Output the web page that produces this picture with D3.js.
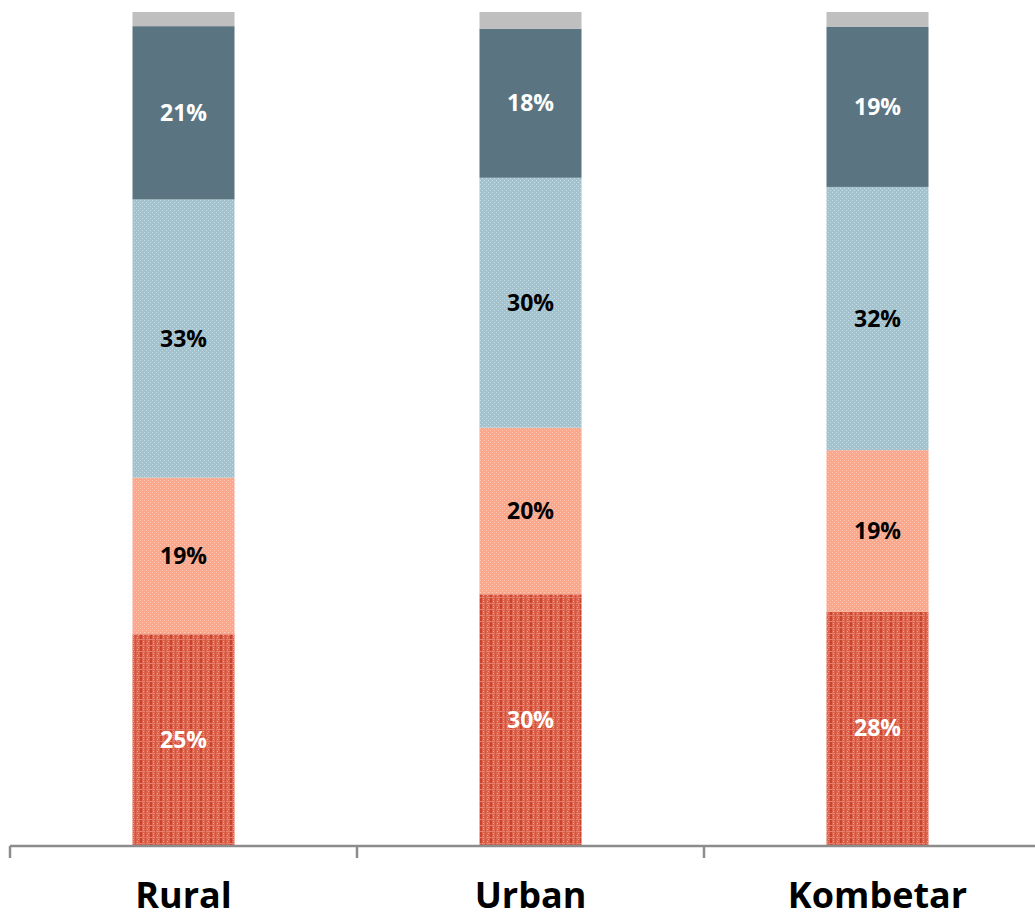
<!DOCTYPE html>
<html>
<head>
<meta charset="utf-8">
<script src="https://cdn.jsdelivr.net/npm/d3@7/dist/d3.min.js"></script>
<style>
  html, body { margin: 0; padding: 0; background: #ffffff; }
  svg { display: block; }
</style>
</head>
<body>
<svg id="chart" width="1035" height="918"></svg>
<script>
// ---- Data (percent of each bar, bottom to top) ----
const categories = ["Rural", "Urban", "Kombetar"];
const seriesKeys = ["s1", "s2", "s3", "s4", "s5"];
const s1Values = [25.3, 30.1, 28.0];   // bottom, red
const s2Values = [18.8, 20.0, 19.4];   // salmon
const s3Values = [33.4, 30.0, 31.6];   // light blue
const s4Values = [20.8, 17.9, 19.2];   // dark slate
const s5Values = [1.7, 2.0, 1.8];      // grey remainder
const s1Labels = ["25%", "30%", "28%"];
const s2Labels = ["19%", "20%", "19%"];
const s3Labels = ["33%", "30%", "32%"];
const s4Labels = ["21%", "18%", "19%"];
const s5Labels = ["", "", ""];

const rows = categories.map((c, i) => ({
  cat: c,
  s1: s1Values[i], s2: s2Values[i], s3: s3Values[i], s4: s4Values[i], s5: s5Values[i]
}));
const labelMap = { s1: s1Labels, s2: s2Labels, s3: s3Labels, s4: s4Labels, s5: s5Labels };
const fills = { s1: "url(#pRed)", s2: "url(#pSalmon)", s3: "url(#pBlue)", s4: "#5a7581", s5: "#bfbfbf" };
const textColors = { s1: "#ffffff", s2: "#000000", s3: "#000000", s4: "#ffffff", s5: "#000000" };

const svg = d3.select("#chart");
const defs = svg.append("defs");

// Red grid-like texture
const pr = defs.append("pattern").attr("id", "pRed").attr("patternUnits", "userSpaceOnUse")
  .attr("width", 10).attr("height", 6);
pr.append("rect").attr("width", 10).attr("height", 6).attr("fill", "#dd634d");
pr.append("rect").attr("x", 0).attr("width", 2).attr("height", 6).attr("fill", "#c9432f");
pr.append("rect").attr("x", 0).attr("y", 3).attr("width", 10).attr("height", 1).attr("fill", "#e77f6c");
pr.append("rect").attr("x", 5).attr("y", 0).attr("width", 1).attr("height", 6).attr("fill", "#d45540");
pr.append("rect").attr("x", 3).attr("y", 1).attr("width", 1).attr("height", 1).attr("fill", "#f0a999");
pr.append("rect").attr("x", 7).attr("y", 1).attr("width", 1).attr("height", 1).attr("fill", "#f0a999");
pr.append("rect").attr("x", 3).attr("y", 5).attr("width", 1).attr("height", 1).attr("fill", "#ee9e8d");
pr.append("rect").attr("x", 8).attr("y", 5).attr("width", 1).attr("height", 1).attr("fill", "#ee9e8d");

// Salmon dotted texture
const ps = defs.append("pattern").attr("id", "pSalmon").attr("patternUnits", "userSpaceOnUse")
  .attr("width", 4).attr("height", 4);
ps.append("rect").attr("width", 4).attr("height", 4).attr("fill", "#fba78c");
ps.append("rect").attr("x", 0).attr("y", 0).attr("width", 1).attr("height", 1).attr("fill", "#fdc8b6");
ps.append("rect").attr("x", 2).attr("y", 2).attr("width", 1).attr("height", 1).attr("fill", "#fdc8b6");

// Light blue dotted texture
const pb = defs.append("pattern").attr("id", "pBlue").attr("patternUnits", "userSpaceOnUse")
  .attr("width", 4).attr("height", 4);
pb.append("rect").attr("width", 4).attr("height", 4).attr("fill", "#a2c2ce");
pb.append("rect").attr("x", 0).attr("y", 0).attr("width", 1).attr("height", 1).attr("fill", "#c8dde5");
pb.append("rect").attr("x", 2).attr("y", 2).attr("width", 1).attr("height", 1).attr("fill", "#c8dde5");

// ---- Scales ----
const left = 10, step = 347;
const x = d3.scaleBand().domain(categories)
  .range([left, left + step * categories.length])
  .paddingInner(0.706).paddingOuter(0.353);
const y = d3.scaleLinear().domain([0, 100]).range([845, 12]);

const stack = d3.stack().keys(seriesKeys);
const stacked = stack(rows);

const layers = svg.append("g").selectAll("g").data(stacked).join("g")
  .attr("fill", d => fills[d.key]);

layers.selectAll("rect").data(d => d.map(v => ({ v, key: d.key }))).join("rect")
  .attr("x", d => x(d.v.data.cat))
  .attr("width", x.bandwidth())
  .attr("y", d => y(d.v[1]))
  .attr("height", d => y(d.v[0]) - y(d.v[1]));

// Segment labels
const labG = svg.append("g")
  .attr("font-family", "'Open Sans', 'Liberation Sans', sans-serif")
  .attr("font-weight", "bold").attr("font-size", 23).attr("text-anchor", "middle");
stacked.forEach(layer => {
  layer.forEach((v, i) => {
    const t = labelMap[layer.key][i];
    if (!t) return;
    labG.append("text")
      .attr("x", x(v.data.cat) + x.bandwidth() / 2)
      .attr("y", (y(v[0]) + y(v[1])) / 2)
      .attr("dy", "0.35em")
      .attr("fill", textColors[layer.key])
      .text(t);
  });
});

// ---- Axis ----
const axisY = 846;
const axisG = svg.append("g").attr("stroke", "#8c8c8c").attr("stroke-width", 2.5);
axisG.append("line").attr("x1", left).attr("x2", left + step * categories.length)
  .attr("y1", axisY).attr("y2", axisY);
const bounds = d3.range(categories.length + 1).map(i => x.range()[0] + i * x.step());
axisG.selectAll("line.tick").data(bounds).join("line").attr("class", "tick")
  .attr("x1", d => d).attr("x2", d => d).attr("y1", axisY).attr("y2", axisY + 12);

const catAxis = d3.axisBottom(x).tickSize(0).tickPadding(0);
const ag = svg.append("g").attr("transform", `translate(0, ${axisY})`).call(catAxis);
ag.select(".domain").remove();
ag.selectAll("text")
  .attr("font-family", "'Open Sans', 'Liberation Sans', sans-serif")
  .attr("font-weight", "bold").attr("font-size", 36).attr("fill", "#000")
  .attr("dy", null).attr("y", 62);
</script>
</body>
</html>
